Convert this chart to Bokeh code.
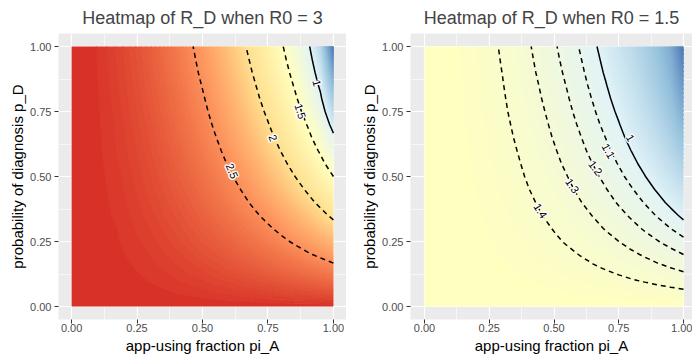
import numpy as np
from bokeh.plotting import figure
from bokeh.layouts import row
from bokeh.models import FixedTicker, NumeralTickFormatter, Range1d, ColumnDataSource
from bokeh.embed import file_html
from bokeh.resources import INLINE
from bokeh.core.properties import value

# ---------------- data ----------------
r0_values = [3, 1.5]
panel_titles = ["Heatmap of R_D when R0 = 3", "Heatmap of R_D when R0 = 1.5"]

# app-using fraction pi_A (columns) and probability of diagnosis p_D (rows)
grid_x = [0.0, 0.05, 0.1, 0.15, 0.2, 0.25, 0.3, 0.35, 0.4, 0.45, 0.5,
          0.55, 0.6, 0.65, 0.7, 0.75, 0.8, 0.85, 0.9, 0.95, 1.0]
grid_y = [0.0, 0.05, 0.1, 0.15, 0.2, 0.25, 0.3, 0.35, 0.4, 0.45, 0.5,
          0.55, 0.6, 0.65, 0.7, 0.75, 0.8, 0.85, 0.9, 0.95, 1.0]

# R_D / R0 on the grid (row = p_D, column = pi_A)
f_grid = [
    [1.000, 1.000, 1.000, 1.000, 1.000, 1.000, 1.000, 1.000, 1.000, 1.000, 1.000, 1.000, 1.000, 1.000, 1.000, 1.000, 1.000, 1.000, 1.000, 1.000, 1.000],
    [1.000, 1.000, 1.000, 0.999, 0.998, 0.997, 0.996, 0.994, 0.992, 0.990, 0.988, 0.985, 0.982, 0.979, 0.976, 0.972, 0.968, 0.964, 0.960, 0.955, 0.950],
    [1.000, 0.999, 0.999, 0.998, 0.996, 0.994, 0.991, 0.988, 0.984, 0.980, 0.976, 0.971, 0.965, 0.959, 0.952, 0.945, 0.937, 0.929, 0.920, 0.910, 0.900],
    [1.000, 0.999, 0.999, 0.997, 0.994, 0.991, 0.987, 0.982, 0.977, 0.971, 0.964, 0.956, 0.948, 0.939, 0.929, 0.918, 0.906, 0.894, 0.880, 0.866, 0.850],
    [1.000, 0.999, 0.998, 0.996, 0.992, 0.988, 0.983, 0.977, 0.970, 0.961, 0.952, 0.943, 0.932, 0.919, 0.906, 0.892, 0.877, 0.860, 0.841, 0.822, 0.800],
    [1.000, 0.999, 0.998, 0.995, 0.990, 0.985, 0.979, 0.971, 0.962, 0.952, 0.941, 0.929, 0.916, 0.901, 0.884, 0.867, 0.847, 0.826, 0.803, 0.778, 0.750],
    [1.000, 0.999, 0.997, 0.994, 0.989, 0.982, 0.975, 0.966, 0.955, 0.944, 0.931, 0.916, 0.900, 0.882, 0.863, 0.842, 0.819, 0.793, 0.765, 0.734, 0.700],
    [1.000, 0.999, 0.997, 0.992, 0.987, 0.979, 0.971, 0.960, 0.949, 0.935, 0.920, 0.903, 0.885, 0.865, 0.842, 0.818, 0.791, 0.761, 0.728, 0.692, 0.650],
    [1.000, 0.999, 0.996, 0.991, 0.985, 0.977, 0.967, 0.955, 0.942, 0.927, 0.910, 0.891, 0.870, 0.847, 0.822, 0.794, 0.764, 0.730, 0.692, 0.649, 0.600],
    [1.000, 0.999, 0.996, 0.990, 0.983, 0.974, 0.963, 0.950, 0.935, 0.919, 0.900, 0.879, 0.856, 0.831, 0.803, 0.772, 0.738, 0.700, 0.657, 0.608, 0.550],
    [1.000, 0.999, 0.995, 0.989, 0.982, 0.972, 0.959, 0.945, 0.929, 0.911, 0.890, 0.868, 0.842, 0.815, 0.784, 0.750, 0.712, 0.670, 0.622, 0.567, 0.500],
    [1.000, 0.999, 0.995, 0.988, 0.980, 0.969, 0.956, 0.941, 0.923, 0.903, 0.881, 0.856, 0.829, 0.799, 0.766, 0.729, 0.688, 0.642, 0.589, 0.527, 0.450],
    [1.000, 0.999, 0.994, 0.987, 0.978, 0.966, 0.952, 0.936, 0.917, 0.896, 0.872, 0.846, 0.816, 0.784, 0.748, 0.709, 0.664, 0.614, 0.557, 0.488, 0.400],
    [1.000, 0.998, 0.994, 0.987, 0.977, 0.964, 0.949, 0.931, 0.911, 0.889, 0.863, 0.835, 0.804, 0.770, 0.732, 0.689, 0.642, 0.588, 0.526, 0.451, 0.350],
    [1.000, 0.998, 0.993, 0.986, 0.975, 0.962, 0.945, 0.927, 0.906, 0.882, 0.855, 0.825, 0.792, 0.756, 0.715, 0.671, 0.620, 0.563, 0.497, 0.415, 0.300],
    [1.000, 0.998, 0.993, 0.985, 0.973, 0.959, 0.942, 0.922, 0.900, 0.875, 0.847, 0.815, 0.781, 0.742, 0.700, 0.653, 0.600, 0.540, 0.469, 0.381, 0.250],
    [1.000, 0.998, 0.993, 0.984, 0.972, 0.957, 0.939, 0.918, 0.895, 0.868, 0.839, 0.806, 0.770, 0.729, 0.685, 0.636, 0.580, 0.517, 0.443, 0.349, 0.200],
    [1.000, 0.998, 0.992, 0.983, 0.970, 0.954, 0.936, 0.914, 0.889, 0.862, 0.831, 0.797, 0.759, 0.717, 0.671, 0.620, 0.562, 0.496, 0.418, 0.319, 0.150],
    [1.000, 0.998, 0.992, 0.982, 0.969, 0.952, 0.933, 0.910, 0.884, 0.855, 0.823, 0.788, 0.749, 0.705, 0.657, 0.604, 0.544, 0.476, 0.395, 0.292, 0.100],
    [1.000, 0.998, 0.991, 0.981, 0.967, 0.950, 0.930, 0.906, 0.879, 0.849, 0.816, 0.779, 0.739, 0.694, 0.645, 0.590, 0.528, 0.457, 0.374, 0.267, 0.050],
    [1.000, 0.998, 0.991, 0.980, 0.966, 0.948, 0.927, 0.902, 0.874, 0.843, 0.809, 0.771, 0.729, 0.683, 0.632, 0.576, 0.512, 0.440, 0.354, 0.244, 0.000],
]

# contour levels (dashed / solid)
levels_dashed = [[1.5, 2, 2.5], [1.1, 1.2, 1.3, 1.4]]
levels_solid = [[1], [1]]

# contour labels
label_x = [[0.613, 0.77, 0.874, 0.937], [0.448, 0.571, 0.66, 0.71, 0.795]]
label_y = [[0.521, 0.648, 0.751, 0.86], [0.368, 0.464, 0.533, 0.598, 0.648]]
label_text = [["2.5", "2", "1.5", "1"], ["1.4", "1.3", "1.2", "1.1", "1"]]
label_angle = [[-67, -69, -72, -75], [-57, -56, -53, -61, -60]]

tick_values = [0, 0.25, 0.5, 0.75, 1]
minor_values = [0.125, 0.375, 0.625, 0.875]

# ---------------- colours (RdYlBu over 0..3, Lab interpolation) ----------------
brewer = ["#4575B4", "#91BFDB", "#E0F3F8", "#FFFFBF", "#FEE090", "#FC8D59", "#D73027"]
COLOR_LOW, COLOR_HIGH = 0.0, 3.0


def _lin(c):
    c = c / 255.0
    return c / 12.92 if c <= 0.04045 else ((c + 0.055) / 1.055) ** 2.4


def _gam(c):
    c = 12.92 * c if c <= 0.0031308 else 1.055 * c ** (1 / 2.4) - 0.055
    return int(max(0, min(255, round(c * 255))))


def _f(t):
    d = 6 / 29
    return t ** (1 / 3) if t > d ** 3 else t / (3 * d * d) + 4 / 29


def _finv(t):
    d = 6 / 29
    return t ** 3 if t > d else 3 * d * d * (t - 4 / 29)


def to_lab(h):
    r, g, b = (_lin(int(h[i:i + 2], 16)) for i in (1, 3, 5))
    x = (0.4124564 * r + 0.3575761 * g + 0.1804375 * b) / 0.95047
    y = 0.2126729 * r + 0.7151522 * g + 0.0721750 * b
    z = (0.0193339 * r + 0.1191920 * g + 0.9503041 * b) / 1.08883
    return 116 * _f(y) - 16, 500 * (_f(x) - _f(y)), 200 * (_f(y) - _f(z))


def from_lab(L, a, b):
    fy = (L + 16) / 116
    x = _finv(fy + a / 500) * 0.95047
    y = _finv(fy)
    z = _finv(fy - b / 200) * 1.08883
    r = 3.2404542 * x - 1.5371385 * y - 0.4985314 * z
    g = -0.9692660 * x + 1.8760108 * y + 0.0415560 * z
    bb = 0.0556434 * x - 0.2040259 * y + 1.0572252 * z
    return "#%02x%02x%02x" % (_gam(r), _gam(g), _gam(bb))


labs = [to_lab(c) for c in brewer]


def color_at(v):
    t = (min(max(v, COLOR_LOW), COLOR_HIGH) - COLOR_LOW) / (COLOR_HIGH - COLOR_LOW) * (len(labs) - 1)
    k = min(int(t), len(labs) - 2)
    w = t - k
    return from_lab(*[labs[k][j] * (1 - w) + labs[k + 1][j] * w for j in range(3)])


FONT = "Liberation Sans"
BAND = 0.025


def make_panel(idx, border_left, x_start, x_end):
    r0 = r0_values[idx]
    p = figure(width=346, height=360, x_range=Range1d(x_start, x_end), y_range=Range1d(-0.05, 1.05),
               output_backend="svg", toolbar_location=None, title=panel_titles[idx],
               min_border_left=border_left, min_border_right=0, min_border_top=32, min_border_bottom=41)
    p.title.text_font = FONT
    p.title.text_font_size = "18px"
    p.title.text_font_style = "normal"
    p.title.align = "center"
    p.title.standoff = 11
    p.title.offset = 0
    p.background_fill_color = "#EBEBEB"
    p.border_fill_color = "white"
    p.outline_line_color = None
    for ax in (p.xaxis[0], p.yaxis[0]):
        ax.ticker = FixedTicker(ticks=tick_values, minor_ticks=minor_values)
        ax.formatter = NumeralTickFormatter(format="0.00")
        ax.axis_line_color = None
        ax.major_tick_line_color = "#333333"
        ax.major_tick_out = 4
        ax.major_tick_in = 0
        ax.minor_tick_line_color = None
        ax.major_label_text_color = "#4D4D4D"
        ax.major_label_text_font = FONT
        ax.major_label_text_font_size = "11px"
        ax.axis_label_text_font = FONT
        ax.axis_label_text_font_size = "15px"
        ax.axis_label_text_font_style = "normal"
        ax.axis_label_text_color = "black"
    p.xaxis.major_label_standoff = 0
    p.xaxis.axis_label_standoff = 2
    p.yaxis.major_label_standoff = 3
    p.yaxis.axis_label_standoff = 1
    p.xaxis.axis_label = "app-using fraction pi_A"
    p.yaxis.axis_label = "probability of diagnosis p_D"
    for g in (p.xgrid[0], p.ygrid[0]):
        g.grid_line_color = "white"
        g.grid_line_width = 1.2
        g.minor_grid_line_color = "white"
        g.minor_grid_line_width = 0.6

    zz = np.array([[r0 * v for v in rowv] for rowv in f_grid])

    # heatmap as many narrow filled bands; band edges stroked in their own colour to hide seams
    nb = int(round(r0 / BAND))
    fill_levels = [-0.01] + [round(BAND * k, 4) for k in range(1, nb)] + [r0 + 0.01]
    band_colors = [color_at((fill_levels[i] + fill_levels[i + 1]) / 2) for i in range(len(fill_levels) - 1)]
    edge_colors = [color_at(lv) for lv in fill_levels]
    p.contour(grid_x, grid_y, zz, fill_levels, fill_color=band_colors,
              line_color=edge_colors, line_width=1.2)

    p.contour(grid_x, grid_y, zz, levels_dashed[idx], line_color="black", line_width=1.5, line_dash="5 4")
    p.contour(grid_x, grid_y, zz, levels_solid[idx], line_color="black", line_width=1.5)

    lsrc = ColumnDataSource(dict(x=label_x[idx], y=label_y[idx], text=label_text[idx], angle=label_angle[idx]))
    for dx, dy in [(-1.5, 0), (1.5, 0), (0, -1.5), (0, 1.5), (-1, -1), (1, 1), (-1, 1), (1, -1)]:
        p.text("x", "y", text="text", angle="angle", angle_units="deg", source=lsrc,
               x_offset=dx, y_offset=dy, text_color="white", text_font=value(FONT),
               text_font_size="11px", text_align="center", text_baseline="middle")
    p.text("x", "y", text="text", angle="angle", angle_units="deg", source=lsrc,
           text_color="black", text_font=value(FONT), text_font_size="11px",
           text_align="center", text_baseline="middle")
    return p


p1 = make_panel(0, 58, -0.05, 1.05)
p2 = make_panel(1, 64, -14 / 259, -14 / 259 + 282 / 259)

open("out.html", "w").write(file_html(row(p1, p2), INLINE))
